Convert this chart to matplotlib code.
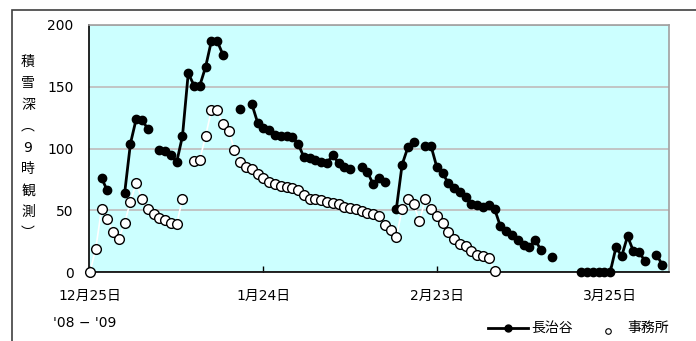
import numpy as np
import matplotlib.pyplot as plt
from matplotlib.lines import Line2D
from matplotlib.patches import Rectangle

plt.rcParams['font.family'] = ['DejaVu Sans', 'Noto Sans CJK JP']

nan = np.nan

# 9時の積雪深 (cm)、12月25日から1日ごと
nagaharudani = [nan, nan, 76, 66, nan, nan, 64, 104, 124, 123,
                116, nan, 99, 98, 95, 89, 110, 161, 151, 151,
                166, 187, 187, 176, nan, nan, 132, nan, 136, 121,
                117, 115, 111, 110, 110, 109, 104, 93, 92, 91,
                89, 88, 95, 88, 85, 83, nan, 85, 81, 71,
                76, 73, nan, 51, 87, 101, 105, nan, 102, 102,
                85, 80, 72, 68, 65, 61, 55, 54, 53, 54,
                51, 37, 33, 30, 26, 22, 20, 26, 18, nan,
                12, nan, nan, nan, nan, 0, 0, 0, 0, 0,
                0, 20, 13, 29, 17, 16, 9, nan, 14, 6]

jimusho = [0, 19, 51, 43, 32, 27, 40, 57, 72, 59,
           51, 47, 44, 42, 40, 39, 59, nan, 90, 91,
           110, 131, 131, 120, 114, 99, 89, 85, 83, 79,
           76, 73, 71, 70, 69, 68, 66, 62, 59, 59,
           58, 57, 56, 55, 53, 52, 51, 49, 48, 47,
           45, 38, 34, 28, 51, 59, 55, 41, 59, 51,
           45, 40, 32, 27, 23, 21, 17, 14, 13, 11,
           1]

tick_days = [0, 30, 60, 90]
tick_labels = ['12月25日', '1月24日', '2月23日', '3月25日']
y_ticks = [0, 50, 100, 150, 200]
ylabel_chars = ['積', '雪', '深', '︵', '9', '時', '観', '測', '︶']

W, H = 696, 341
fig = plt.figure(figsize=(W / 100, H / 100), dpi=100)

# outer chart frame (runs off the right and bottom edges)
fig.add_artist(Rectangle((12 / W, -0.1), 1.0, 1 - 10 / H + 0.1,
                         transform=fig.transFigure, fill=False,
                         ec='#404040', lw=1.2))

ax = fig.add_axes([89 / W, 69 / H, 580 / W, 247 / H])
ax.set_facecolor('#CCFFFF')

d_n = np.arange(len(nagaharudani))
d_j = np.arange(len(jimusho))
ax.plot(d_n, nagaharudani, color='black', lw=2, marker='o', ms=6,
        mfc='black', mec='black', zorder=3, clip_on=False)
ax.plot(d_j, jimusho, color='white', lw=1.2, marker='o', ms=7,
        mfc='white', mec='black', mew=1.0, zorder=4, clip_on=False)

ax.set_xlim(-0.17, 100.17)
ax.set_ylim(0, 200)
ax.set_yticks(y_ticks)
ax.set_xticks(tick_days)
ax.set_xticklabels(tick_labels)
ax.grid(axis='y', color='#C0C0C0', lw=1.3)
ax.set_axisbelow(True)

ax.tick_params(axis='y', length=0, pad=11, labelsize=10)
ax.tick_params(axis='x', direction='in', length=4, width=1, pad=12,
               labelsize=10)
for s in ['left', 'bottom']:
    ax.spines[s].set_color('black')
    ax.spines[s].set_linewidth(1.2)
for s in ['top', 'right']:
    ax.spines[s].set_color('#A0A0A0')
    ax.spines[s].set_linewidth(1.2)

# vertical axis title, one character per line
for i, ch in enumerate(ylabel_chars):
    fig.text(28 / W, 1 - (62 + i * 21.4) / H, ch, ha='center', va='center',
             fontsize=10)

fig.text(53 / W, 1 - 323 / H, "'08 − '09", ha='left', va='center',
         fontsize=10)

# legend
ly = 1 - 328 / H
fig.add_artist(Line2D([488 / W, 528 / W], [ly, ly], transform=fig.transFigure,
                      color='black', lw=2))
fig.add_artist(Line2D([508 / W], [ly], transform=fig.transFigure,
                      marker='o', ms=5, color='black'))
fig.text(531 / W, ly, '長治谷', ha='left', va='center', fontsize=10)
fig.add_artist(Line2D([608 / W], [1 - 331 / H], transform=fig.transFigure,
                      marker='o', ms=4, mfc='white', mec='black', mew=0.8))
fig.text(627 / W, ly, '事務所', ha='left', va='center', fontsize=10)

fig.savefig('out.png', dpi=100)
